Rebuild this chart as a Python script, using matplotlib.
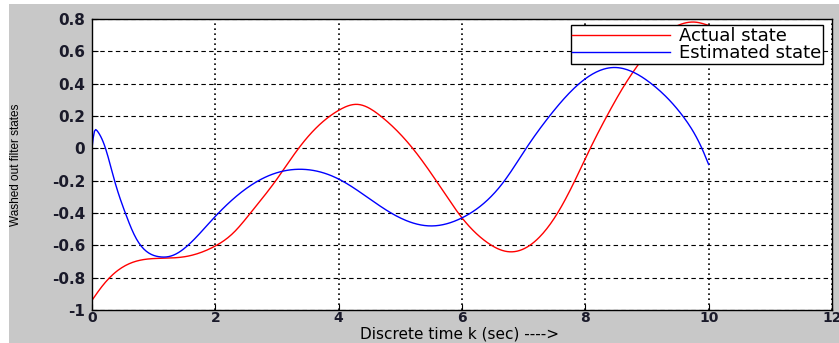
import matplotlib
matplotlib.use("Agg")
import matplotlib.pyplot as plt
from matplotlib.patches import Rectangle
import numpy as np

# values
k_actual = [0, 0.15, 0.37, 0.7, 1.13, 1.51, 1.97, 2.3, 2.57, 2.98, 3.35, 3.7, 4.0,
            4.3, 4.68, 5.2, 5.66, 6.0, 6.4, 6.77, 7.1, 7.55, 7.83, 8.08, 8.35,
            8.65, 8.9, 9.2, 9.5, 9.8, 10]
actual = [-0.94, -0.86, -0.77, -0.70, -0.68, -0.67, -0.61, -0.52, -0.40, -0.20, 0.0,
          0.15, 0.235, 0.272, 0.20, 0.0, -0.245, -0.43, -0.58, -0.64, -0.60, -0.40,
          -0.20, 0.0, 0.20, 0.40, 0.54, 0.68, 0.76, 0.78, 0.76]

k_est = [0, 0.03, 0.08, 0.21, 0.37, 0.54, 0.70, 0.86, 1.08, 1.29, 1.62, 1.97, 2.7,
         3.43, 4.0, 4.85, 5.5, 6.0, 6.69, 7.04, 7.42, 7.9, 8.47, 9.07, 9.58,
         9.89, 10]
estimated = [0.0, 0.09, 0.11, 0.01, -0.206, -0.40, -0.546, -0.63, -0.67, -0.665,
             -0.577, -0.433, -0.20, -0.13, -0.19, -0.40, -0.48, -0.43, -0.20,
             0.0, 0.20, 0.40, 0.50, 0.40, 0.20, 0.0, -0.10]


def smooth(xs, ys, n=500):
    # natural cubic spline through the read points
    x = np.asarray(xs, float)
    y = np.asarray(ys, float)
    nn = len(x)
    h = np.diff(x)
    A = np.zeros((nn, nn))
    b = np.zeros(nn)
    A[0, 0] = A[-1, -1] = 1
    for i in range(1, nn - 1):
        A[i, i - 1] = h[i - 1]
        A[i, i] = 2 * (h[i - 1] + h[i])
        A[i, i + 1] = h[i]
        b[i] = 6 * ((y[i + 1] - y[i]) / h[i] - (y[i] - y[i - 1]) / h[i - 1])
    M = np.linalg.solve(A, b)
    xx = np.linspace(x[0], x[-1], n)
    idx = np.clip(np.searchsorted(x, xx) - 1, 0, nn - 2)
    x0, x1, hi = x[idx], x[idx + 1], h[idx]
    yy = (M[idx] * (x1 - xx)**3 / (6 * hi) + M[idx + 1] * (xx - x0)**3 / (6 * hi)
          + (y[idx] / hi - M[idx] * hi / 6) * (x1 - xx)
          + (y[idx + 1] / hi - M[idx + 1] * hi / 6) * (xx - x0))
    return xx, yy


plt.rcParams['font.family'] = ['DejaVu Sans']

fig = plt.figure(figsize=(8.39, 3.43), dpi=100, facecolor='white')
fig.patches.append(Rectangle((9 / 839, 0), 1, 1 - 4 / 343, transform=fig.transFigure,
                             facecolor='#c8c8c8', edgecolor='none', zorder=-1))
ax = fig.add_axes([92 / 839, 33 / 343, 740 / 839, 291 / 343])

xa, ya = smooth(k_actual, actual)
xe, ye = smooth(k_est, estimated)
ax.plot(xa, ya, color='red', lw=1, label='Actual state')
ax.plot(xe, ye, color='blue', lw=1, label='Estimated state')

ax.set_xlim(0, 12)
ax.set_ylim(-1, 0.8)
ax.set_xticks(np.arange(0, 13, 2))
ax.set_yticks(np.round(np.arange(-1, 0.81, 0.2), 1))
ax.set_yticklabels(['-1', '-0.8', '-0.6', '-0.4', '-0.2', '0', '0.2', '0.4', '0.6', '0.8'])

ax.xaxis.grid(True, color='black', linestyle=(0, (1, 2)), lw=1.2)
ax.yaxis.grid(True, color='black', linestyle=(0, (4, 3)), lw=0.8)
ax.tick_params(direction='in', length=4, labelsize=11, width=0.8)
ax.tick_params(axis='x', pad=1, labelsize=10)
ax.tick_params(axis='y', pad=5)
for lab in ax.get_xticklabels() + ax.get_yticklabels():
    lab.set_fontweight('bold')
    lab.set_color('#1a1a2a')
for s in ax.spines.values():
    s.set_linewidth(1.0)

ax.set_xlabel('Discrete time k (sec) ---->', fontsize=11)
ax.xaxis.set_label_coords(0.497, -0.056)
ax.set_ylabel('Washed out filter states', fontsize=8.5,
              family=['Liberation Sans Narrow', 'Liberation Sans'])
ax.yaxis.set_label_coords(-0.094, 0.5)

leg = ax.legend(loc='upper right', bbox_to_anchor=(0.9878, 0.979), fontsize=13,
                frameon=True, fancybox=False, edgecolor='black', framealpha=1,
                borderpad=0.1, handlelength=5.4, handletextpad=0.5,
                labelspacing=-0.05, borderaxespad=0)
leg.get_frame().set_linewidth(1.0)

fig.savefig('out.png', dpi=100, facecolor=fig.get_facecolor())
